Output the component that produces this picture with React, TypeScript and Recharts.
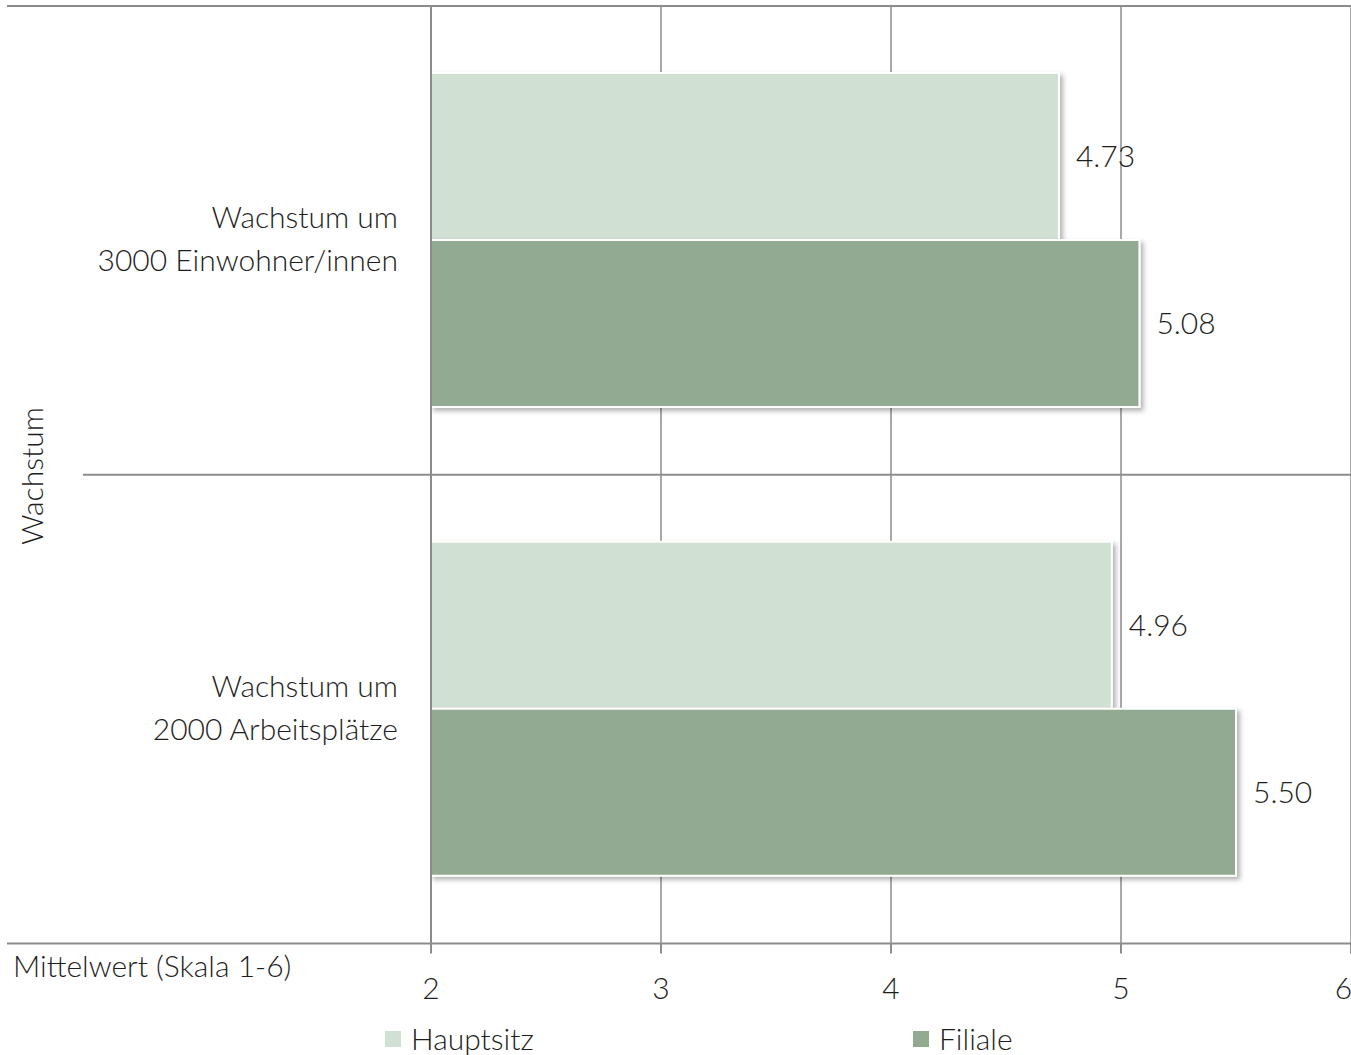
import React from 'react';
import { BarChart, Bar, XAxis, YAxis, CartesianGrid, LabelList, Legend } from 'recharts';

const categories = ['Wachstum um\n3000 Einwohner/innen', 'Wachstum um\n2000 Arbeitsplätze'];
const hauptsitz = [4.73, 4.96];
const filiale = [5.08, 5.5];
const xTicks = [2, 3, 4, 5, 6];
const seriesNames = ['Hauptsitz', 'Filiale'];
const categoryTitle = 'Wachstum';
const valueTitle = 'Mittelwert (Skala 1-6)';

const data = categories.map((name, i) => ({ name, hauptsitz: hauptsitz[i], filiale: filiale[i] }));

const W = 1351;
const H = 1055;
const PLOT_TOP = 6;
const PLOT_BOTTOM = 943.5;
const X_AXIS_H = 30;
const FONT = 'Lato, "Open Sans", sans-serif';
const FW = 300;
const FS = 30;
const TEXT = '#1e1e1e';
const GRID = '#8c8c8c';
const COLORS = ['#d0e0d3', '#92a992'];
const LEGEND_X = [385, 913];
const BAND_HALF = (PLOT_BOTTOM - PLOT_TOP) / categories.length / 2;

const BarShape = (p: any) => (
  <rect x={p.x} y={p.y} width={p.width} height={p.height} fill={p.fill} stroke="#ffffff" strokeWidth={2} filter="url(#barShadow)" />
);

const YTick = (props: any) => {
  const { y, payload, index } = props;
  const lines = String(payload.value).split('\n');
  const top = y - BAND_HALF;
  const bottom = y + BAND_HALF;
  return (
    <g>
      {index === 0 && <line x1={7} x2={W} y1={top} y2={top} stroke={GRID} strokeWidth={2} />}
      <line x1={index === categories.length - 1 ? 7 : 83} x2={W} y1={bottom} y2={bottom} stroke={GRID} strokeWidth={2} />
      <text textAnchor="end" fill={TEXT} fontSize={FS} fontFamily={FONT} fontWeight={FW}>
        {lines.map((l, i) => (
          <tspan key={i} x={398} y={y + (i - (lines.length - 1) / 2) * 43 + 9}>
            {l}
          </tspan>
        ))}
      </text>
    </g>
  );
};

const renderLegend = () => (
  <div style={{ position: 'relative', width: W, height: 33 }}>
    {seriesNames.map((name, i) => (
      <div
        key={name}
        style={{ position: 'absolute', left: LEGEND_X[i], top: 0, display: 'flex', alignItems: 'center', fontFamily: FONT, fontWeight: FW, fontSize: FS, color: TEXT, lineHeight: '33px' }}
      >
        <span style={{ display: 'inline-block', width: 16, height: 16, background: COLORS[i], marginRight: 10 }} />
        <span>{name}</span>
      </div>
    ))}
  </div>
);

export default function App() {
  return (
    <div style={{ position: 'absolute', left: 0, top: 0, width: W, height: H, background: '#fff' }}>
      <svg width={0} height={0} style={{ position: 'absolute' }}>
        <defs>
          <filter id="barShadow" x="-10%" y="-10%" width="130%" height="130%">
            <feDropShadow dx="3" dy="3" stdDeviation="2.5" floodColor="#000" floodOpacity="0.3" />
          </filter>
        </defs>
      </svg>
      <BarChart
        width={W}
        height={H}
        data={data}
        layout="vertical"
        margin={{ top: PLOT_TOP, right: 0, bottom: H - PLOT_BOTTOM - X_AXIS_H, left: 0 }}
        barCategoryGap={67}
        barGap={0}
      >
        <CartesianGrid horizontal={false} vertical={true} stroke={GRID} strokeWidth={1.5} />
        <XAxis
          type="number"
          domain={[2, 6]}
          ticks={xTicks}
          allowDataOverflow
          height={X_AXIS_H}
          axisLine={false}
          tickLine={{ stroke: GRID, strokeWidth: 2 }}
          tickSize={10}
          tickMargin={24}
          tick={{ fill: TEXT, fontSize: FS, fontFamily: FONT, fontWeight: FW }}
          label={{
            content: () => (
              <text x={13} y={977} fill={TEXT} fontSize={FS} fontFamily={FONT} fontWeight={FW}>
                {valueTitle}
              </text>
            ),
          }}
        />
        <YAxis
          type="category"
          dataKey="name"
          width={431}
          axisLine={{ stroke: GRID, strokeWidth: 2 }}
          tickLine={false}
          tick={<YTick />}
          interval={0}
          label={{
            content: () => (
              <text x={43} y={476} transform="rotate(-90 43 476)" textAnchor="middle" fill={TEXT} fontSize={FS} fontFamily={FONT} fontWeight={FW}>
                {categoryTitle}
              </text>
            ),
          }}
        />
        <Bar dataKey="hauptsitz" name={seriesNames[0]} fill={COLORS[0]} shape={BarShape} isAnimationActive={false}>
          <LabelList dataKey="hauptsitz" position="right" offset={17} formatter={(v: any) => Number(v).toFixed(2)} fill={TEXT} fontSize={FS} fontFamily={FONT} fontWeight={FW} />
        </Bar>
        <Bar dataKey="filiale" name={seriesNames[1]} fill={COLORS[1]} shape={BarShape} isAnimationActive={false}>
          <LabelList dataKey="filiale" position="right" offset={17} formatter={(v: any) => Number(v).toFixed(2)} fill={TEXT} fontSize={FS} fontFamily={FONT} fontWeight={FW} />
        </Bar>
        <Legend verticalAlign="middle" align="center" wrapperStyle={{ top: 1022, left: 0, width: W, height: 33 }} content={renderLegend} />
      </BarChart>
    </div>
  );
}
